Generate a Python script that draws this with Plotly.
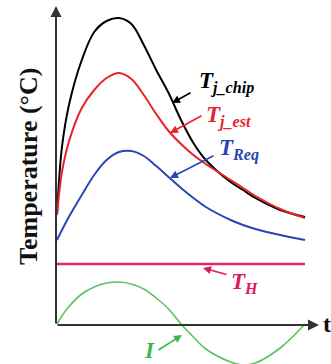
import plotly.graph_objects as go

# time grid (arbitrary units) and curve heights (arbitrary units above the time axis)
t = [0, 0.2, 0.5, 1, 1.5, 2, 2.5, 3, 3.5, 4, 4.5, 5, 5.5, 6, 7, 7.5, 8, 9, 10]
T_j_chip = [109, 177, 221, 264, 292, 303, 306, 300, 279, 254, 231, 204, 181, 164, 142, 134, 126, 114, 107]
T_j_est = [109, 152, 184, 216, 234, 246, 251, 245, 229, 210, 193, 180, 169, 160, 144, 136, 128, 115, 106]
T_Req = [84, 94, 108, 129, 149, 164, 172, 173, 168, 158, 147, 136, 126, 117, 104, 99, 95, 89, 84]
T_H = [60] * len(t)
I = [0, 8, 18, 30, 37, 41, 42, 40, 35, 26, 15, 0, -13, -25, -38, -41, -39, -24, 0]

W, H = 331, 364
X0, SX = 57, 24.8      # pixel of t=0, pixels per time unit
Y0 = 324               # pixel of zero height


def P(px, py):
    return (px - X0) / SX, Y0 - py


fig = go.Figure()
series = [
    (T_j_chip, "#000000", 2.0),
    (T_j_est, "#e8212b", 2.0),
    (T_Req, "#2a45b5", 2.0),
    (T_H, "#e8246a", 2.6),
    (I, "#5cc35c", 1.6),
]
for ys, col, w in series:
    fig.add_trace(go.Scatter(x=t, y=ys, mode="lines",
                             line=dict(color=col, width=w, shape="spline", smoothing=1.0),
                             hoverinfo="skip", showlegend=False))

ann = []
axc = "#333333"
# axes with arrowheads
x_ax, y_bot = P(56, 325)
x_end, _ = P(319, 325)
_, y_top = P(56, 6)
ann.append(dict(x=x_end, y=y_bot, ax=x_ax, ay=y_bot, xref="x", yref="y", axref="x", ayref="y",
                text="", showarrow=True, arrowhead=2, arrowsize=1.1, arrowwidth=2, arrowcolor=axc, standoff=0))
ann.append(dict(x=x_ax, y=y_top, ax=x_ax, ay=y_bot, xref="x", yref="y", axref="x", ayref="y",
                text="", showarrow=True, arrowhead=2, arrowsize=1.1, arrowwidth=2, arrowcolor=axc, standoff=0))

# label arrows (tail -> head)
arrows = [
    ((192, 92), (172, 103), "#000000"),
    ((203, 115), (170, 133), "#e8212b"),
    ((215, 155), (170, 178), "#2a45b5"),
    ((228, 275), (203, 268), "#e0195d"),
    ((157, 351), (182, 335), "#44b544"),
]
for (tx, ty), (hx, hy), col in arrows:
    hxd, hyd = P(hx, hy)
    txd, tyd = P(tx, ty)
    ann.append(dict(x=hxd, y=hyd, ax=txd, ay=tyd, xref="x", yref="y", axref="x", ayref="y",
                    text="", showarrow=True, arrowhead=2, arrowsize=1.0, arrowwidth=1.6,
                    arrowcolor=col, standoff=0))

lab_font = "Liberation Serif"
labels = [
    ("T<sub>j_chip</sub>", 197, 82, "#000000"),
    ("T<sub>j_est</sub>", 204, 116, "#e8212b"),
    ("T<sub>Req</sub>", 217, 149, "#2a45b5"),
    ("T<sub>H</sub>", 229, 283, "#e0195d"),
    ("I", 142, 350, "#44b544"),
]
for txt, px, py, col in labels:
    xd, yd = P(px, py)
    ann.append(dict(x=xd, y=yd, xref="x", yref="y", text="<b><i>" + txt + "</i></b>",
                    showarrow=False, xanchor="left", yanchor="middle",
                    font=dict(family=lab_font, size=23, color=col)))

# axis labels
xd, yd = P(321, 324)
ann.append(dict(x=xd, y=yd, xref="x", yref="y", text="<b>t</b>", showarrow=False,
                xanchor="left", yanchor="middle", font=dict(family=lab_font, size=24, color="#111111")))
xd, yd = P(28, 167)
ann.append(dict(x=xd, y=yd, xref="x", yref="y", text="<b>Temperature (°C)</b>", showarrow=False,
                textangle=-90, xanchor="center", yanchor="middle",
                font=dict(family=lab_font, size=26, color="#111111")))

xr0, _ = P(0, 0)
xr1, _ = P(W, 0)
fig.update_layout(
    width=W, height=H, margin=dict(l=0, r=0, t=0, b=0, pad=0),
    paper_bgcolor="white", plot_bgcolor="white",
    xaxis=dict(range=[xr0, xr1], visible=False, fixedrange=True),
    yaxis=dict(range=[Y0 - H, Y0], visible=False, fixedrange=True),
    annotations=ann, showlegend=False,
)
fig.write_html("out.html")
